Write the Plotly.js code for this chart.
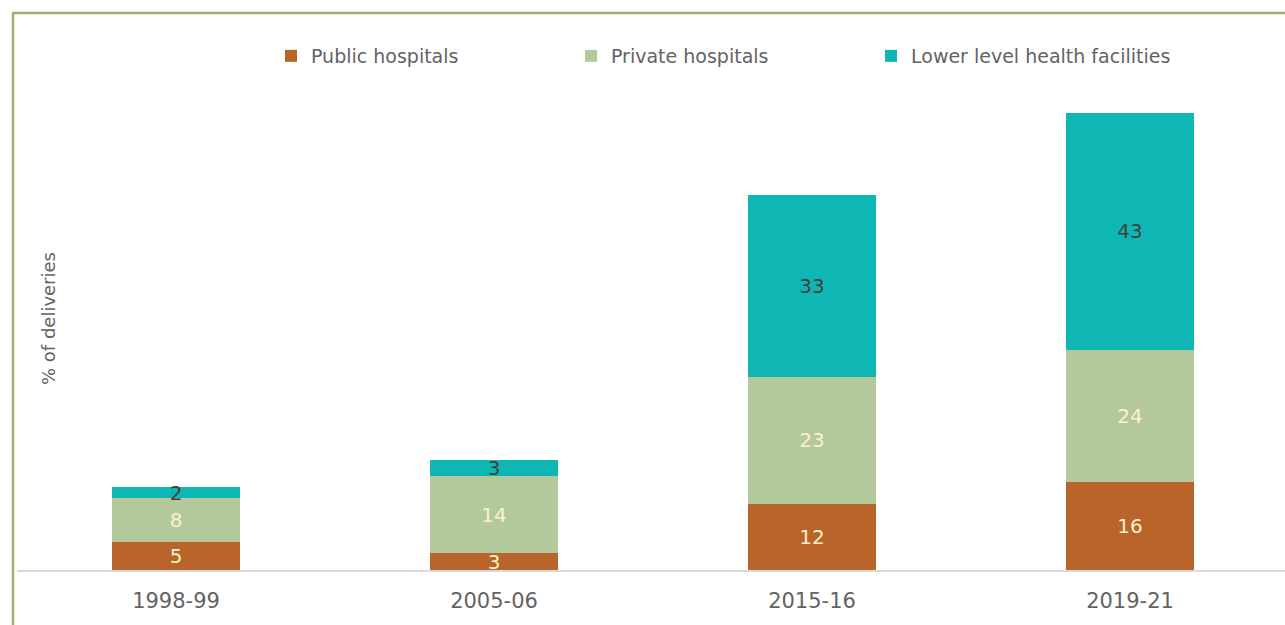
<!DOCTYPE html>
<html>
<head>
<meta charset="utf-8">
<script src="https://cdn.plot.ly/plotly-3.0.1.min.js"></script>
<style>html,body{margin:0;padding:0;background:#fff;}#chart{width:1285px;height:625px;}</style>
</head>
<body>
<div id="chart"></div>
<script>
var categories = ["1998-99", "2005-06", "2015-16", "2019-21"];
var publicHospitals = [5, 3, 12, 16];
var privateHospitals = [8, 14, 23, 24];
var lowerLevel = [2, 3, 33, 43];
var seriesNames = ["Public hospitals", "Private hospitals", "Lower level health facilities"];

var W = 1285, H = 625;
var mL = 17, mR = 0, mT = 85, mB = 55;
var pw = W - mL - mR, ph = H - mT - mB;
function px2x(p) { return (p - mL) / pw; }
function py2y(p) { return (H - mB - p) / ph; }

var font = "DejaVu Sans, Liberation Sans, sans-serif";
var txt = "#636363";
function mk(name, vals, color, tcolor) {
  return {
    type: "bar", name: name, x: categories, y: vals,
    text: vals.map(String), textposition: "inside", insidetextanchor: "middle",
    textangle: 0, constraintext: "none", cliponaxis: false,
    textfont: {family: font, size: 20, color: tcolor},
    marker: {color: color, line: {width: 0}},
    width: 0.4, hoverinfo: "skip"
  };
}
var data = [
  mk(seriesNames[0], publicHospitals, "#B8642A", "#FBF1CC"),
  mk(seriesNames[1], privateHospitals, "#B3C99C", "#FBF1CC"),
  mk(seriesNames[2], lowerLevel, "#0EB7B3", "#404040")
];
var layout = {
  width: W, height: H, barmode: "stack",
  margin: {l: mL, r: mR, t: mT, b: mB, pad: 0, autoexpand: false},
  paper_bgcolor: "#fff", plot_bgcolor: "#fff",
  font: {family: font, color: txt},
  showlegend: true,
  legend: {orientation: "h", x: px2x(271), xanchor: "left", y: py2y(56), yanchor: "middle",
    traceorder: "normal", entrywidth: 255, entrywidthmode: "pixels",
    font: {family: font, size: 19, color: txt}},
  xaxis: {type: "category", range: [-0.5, -0.5 + pw / 318], showgrid: false, zeroline: false,
    showline: true, linecolor: "#D9D9D9", linewidth: 2, ticks: "", ticklabelstandoff: 11,
    tickfont: {family: font, size: 21, color: txt}, fixedrange: true},
  yaxis: {range: [0, 88], showgrid: false, zeroline: false, showticklabels: false,
    showline: false, ticks: "", fixedrange: true},
  annotations: [{
    text: "% of deliveries", xref: "paper", yref: "paper",
    x: px2x(48), y: py2y(319), xanchor: "center", yanchor: "middle",
    textangle: -90, showarrow: false,
    font: {family: font, size: 18, color: txt}
  }],
  shapes: [
    {type: "line", xref: "paper", yref: "paper", x0: px2x(13), x1: px2x(13), y0: py2y(12), y1: py2y(630),
      line: {color: "#9BB07A", width: 2.5}},
    {type: "line", xref: "paper", yref: "paper", x0: px2x(12), x1: px2x(1290), y0: py2y(13), y1: py2y(13),
      line: {color: "#9BB07A", width: 2.5}}
  ]
};
Plotly.newPlot("chart", data, layout, {displayModeBar: false, staticPlot: true});
</script>
</body>
</html>
